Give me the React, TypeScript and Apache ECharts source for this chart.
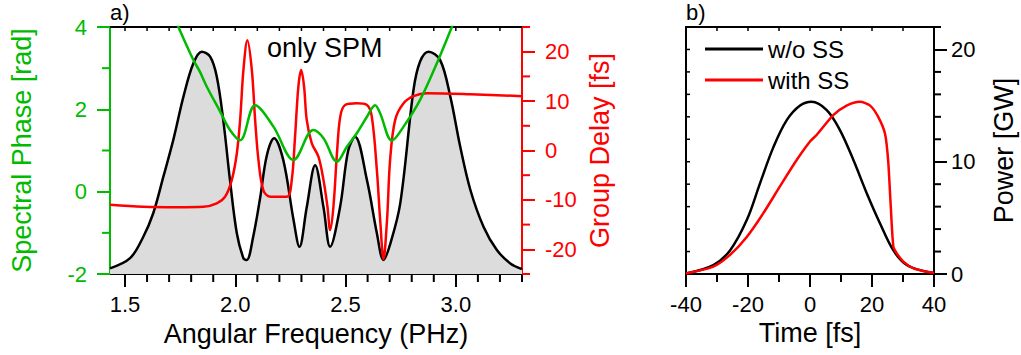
import React, { useEffect, useRef } from "react";
import * as echarts from "echarts";

// ---------- Panel a) data ----------
const FREQ_SPEC = [1.432, 1.523, 1.583, 1.628, 1.674, 1.719, 1.765, 1.81, 1.848, 1.886, 1.916, 1.946, 1.976, 2.007, 2.037, 2.052, 2.081, 2.113, 2.143, 2.176, 2.218, 2.264, 2.291, 2.324, 2.362, 2.4, 2.43, 2.475, 2.512, 2.543, 2.597, 2.642, 2.672, 2.702, 2.748, 2.808, 2.838, 2.876, 2.929, 2.975, 3.02, 3.066, 3.126, 3.186, 3.247, 3.3];
const SPECTRUM = [0.023, 0.064, 0.151, 0.246, 0.394, 0.543, 0.718, 0.853, 0.9, 0.88, 0.8, 0.62, 0.38, 0.165, 0.064, 0.057, 0.15, 0.31, 0.48, 0.55, 0.46, 0.22, 0.11, 0.27, 0.44, 0.27, 0.11, 0.27, 0.5, 0.556, 0.38, 0.165, 0.057, 0.12, 0.286, 0.745, 0.86, 0.9, 0.866, 0.718, 0.515, 0.34, 0.19, 0.097, 0.043, 0.02];

const FREQ_PHASE = [1.7, 1.742, 1.81, 1.84, 1.871, 1.931, 1.976, 2.022, 2.09, 2.173, 2.264, 2.354, 2.4, 2.461, 2.506, 2.551, 2.597, 2.634, 2.657, 2.71, 2.763, 2.838, 2.914, 2.982, 3.02];
const PHASE = [4.5, 4.0, 3.2, 2.91, 2.55, 1.95, 1.5, 1.25, 2.1, 1.58, 0.77, 1.5, 1.3, 0.73, 1.09, 1.42, 1.82, 2.1, 1.9, 1.24, 1.58, 2.23, 3.12, 4.0, 4.5];

const FREQ_GD = [1.432, 1.583, 1.735, 1.855, 1.916, 1.954, 1.984, 2.007, 2.022, 2.037, 2.055, 2.075, 2.09, 2.105, 2.127, 2.158, 2.234, 2.256, 2.271, 2.286, 2.299, 2.312, 2.324, 2.347, 2.377, 2.4, 2.418, 2.43, 2.445, 2.461, 2.476, 2.498, 2.551, 2.597, 2.619, 2.642, 2.657, 2.672, 2.688, 2.702, 2.725, 2.763, 2.808, 2.869, 3.066, 3.3];
const GROUP_DELAY = [-11.0, -11.4, -11.5, -11.4, -10.7, -9.35, -6.0, -0.6, 6.2, 16.3, 22.3, 16.3, 6.2, -1.9, -8.0, -9.35, -9.35, -6.0, 2.8, 12.9, 16.3, 12.9, 6.2, 1.45, -1.25, -6.0, -11.4, -16.1, -11.4, -0.6, 6.85, 9.2, 9.55, 9.2, 6.85, -4.0, -14.1, -22.0, -14.1, -1.9, 6.2, 9.55, 11.0, 11.6, 11.4, 11.0];

const FREQ_TICKS = [1.5, 2.0, 2.5, 3.0];
const FREQ_MINOR = [1.6, 1.7, 1.8, 1.9, 2.1, 2.2, 2.3, 2.4, 2.6, 2.7, 2.8, 2.9, 3.1, 3.2, 3.3];
const FREQ_TOP = [1.5, 1.6, 1.7, 1.8, 1.9, 2.0, 2.1, 2.2, 2.3, 2.4, 2.5, 2.6, 2.7, 2.8, 2.9, 3.0, 3.1, 3.2];
const PHASE_TICKS = [-2, 0, 2, 4];
const PHASE_MINOR = [-1, 1, 3];
const GD_TICKS = [-20, -10, 0, 10, 20];
const GD_MINOR = [-25, -15, -5, 5, 15, 25];

// ---------- Panel b) data ----------
const TIME_WO = [-40, -31.2, -25.8, -20.4, -16.1, -11.8, -7.5, -3.2, 0.5, 5.4, 9.7, 14.0, 18.3, 22.6, 26.9, 31.2, 37.6, 40];
const POWER_WO = [0.05, 0.8, 2.1, 4.8, 8.1, 11.3, 13.7, 15.0, 15.34, 14.6, 12.8, 10.15, 7.2, 4.5, 2.1, 0.8, 0.2, 0.1];
const TIME_SS = [-40, -31.2, -25.8, -20.4, -15.1, -9.7, -4.3, 0.0, 2.2, 7.5, 11.8, 16.1, 19.4, 22.0, 24.2, 25.2, 26.0, 26.9, 28.0, 30.1, 33.4, 37.6, 40];
const POWER_SS = [0.05, 0.65, 1.7, 3.3, 5.4, 7.8, 10.15, 11.8, 12.4, 14.15, 15.0, 15.34, 15.0, 14.0, 12.5, 10.15, 6.3, 2.43, 1.84, 1.1, 0.5, 0.2, 0.1];

const TIME_TICKS = [-40, -20, 0, 20, 40];
const TIME_MINOR = [-30, -10, 10, 30];
const TIME_TOP = [-30, -20, -10, 0, 10, 20, 30];
const POWER_TICKS = [0, 10, 20];
const POWER_MINOR = [2, 4, 6, 8, 12, 14, 16, 18, 22];
const POWER_LEFT = [2, 4, 6, 8, 10, 12, 14, 16, 18, 20, 22];

const FONT = "'Liberation Sans', Arial, sans-serif";
const GREEN = "#00bb00";
const RED = "#ff0000";
const BLACK = "#000000";

const zip = (xs: number[], ys: number[]) => xs.map((x, i) => [x, ys[i]]);

function mainAxis(base: any, ticks: number[], color: string, labelMargin: number, formatter?: (v: number) => string) {
  return {
    ...base,
    axisLine: { show: true, onZero: false, lineStyle: { color, width: 2 } },
    axisTick: { show: true, length: 13, customValues: ticks, lineStyle: { color, width: 2 } },
    axisLabel: {
      show: true, customValues: ticks, margin: labelMargin,
      fontFamily: FONT, fontSize: 22, color,
      ...(formatter ? { formatter } : {}),
    },
    splitLine: { show: false },
  };
}

function frameAxis(base: any) {
  return {
    ...base,
    axisLine: { show: true, onZero: false, lineStyle: { color: BLACK, width: 2 } },
    axisTick: { show: false },
    axisLabel: { show: false },
    splitLine: { show: false },
  };
}

export default function App() {
  const ref = useRef<HTMLDivElement>(null);
  useEffect(() => {
    if (!ref.current) return;
    const chart = echarts.init(ref.current, null, { renderer: "svg" });
    const nameStyle = (color: string) => ({ fontFamily: FONT, fontSize: 27, color });

    const option: any = {
      animation: false,
      grid: [
        { left: 110, top: 27, width: 412, height: 247 },
        { left: 686, top: 27, width: 248, height: 247 },
      ],
      xAxis: [
        {
          ...mainAxis({ type: "value", gridIndex: 0, min: 1.432, max: 3.3, position: "bottom" }, FREQ_TICKS, BLACK, 19, (v: number) => v.toFixed(1)),
          name: "Angular Frequency (PHz)", nameLocation: "middle", nameGap: 46, nameTextStyle: nameStyle(BLACK),
        },
        frameAxis({ type: "value", gridIndex: 0, min: 1.432, max: 3.3, position: "top" }),
        {
          ...mainAxis({ type: "value", gridIndex: 1, min: -40, max: 40, position: "bottom" }, TIME_TICKS, BLACK, 19),
          name: "Time [fs]", nameLocation: "middle", nameGap: 44, nameTextStyle: nameStyle(BLACK),
        },
        frameAxis({ type: "value", gridIndex: 1, min: -40, max: 40, position: "top" }),
      ],
      yAxis: [
        {
          ...mainAxis({ type: "value", gridIndex: 0, min: -2, max: 4, position: "left" }, PHASE_TICKS, GREEN, 23),
          name: "Spectral Phase [rad]", nameLocation: "middle", nameRotate: 90, nameGap: 75, nameTextStyle: nameStyle(GREEN),
        },
        {
          ...mainAxis({ type: "value", gridIndex: 0, min: -25, max: 25, position: "right" }, GD_TICKS, RED, 23),
          name: "Group Delay [fs]", nameLocation: "middle", nameRotate: 90, nameGap: 64, nameTextStyle: nameStyle(RED),
        },
        { type: "value", gridIndex: 0, min: 0, max: 1, show: false },
        {
          ...mainAxis({ type: "value", gridIndex: 1, min: 0, max: 22, position: "right" }, POWER_TICKS, BLACK, 17),
          name: "Power [GW]", nameLocation: "middle", nameRotate: 90, nameGap: 56, nameTextStyle: nameStyle(BLACK),
        },
        frameAxis({ type: "value", gridIndex: 1, min: 0, max: 22, position: "left" }),
      ],
      legend: {
        orient: "vertical",
        left: 700,
        top: 32,
        itemWidth: 58,
        itemHeight: 3,
        itemGap: 7,
        icon: "rect",
        textStyle: { fontFamily: FONT, fontSize: 24, color: BLACK },
        data: ["w/o SS", "with SS"],
      },
      series: [
        {
          type: "line", xAxisIndex: 0, yAxisIndex: 2, data: zip(FREQ_SPEC, SPECTRUM),
          smooth: 0.35, showSymbol: false, lineStyle: { color: BLACK, width: 2.5 },
          areaStyle: { color: "#dcdcdc", opacity: 1 }, z: 2,
        },
        {
          type: "line", xAxisIndex: 0, yAxisIndex: 0, data: zip(FREQ_PHASE, PHASE),
          smooth: 0.35, showSymbol: false, lineStyle: { color: GREEN, width: 2.5 }, z: 4,
        },
        {
          type: "line", xAxisIndex: 0, yAxisIndex: 1, data: zip(FREQ_GD, GROUP_DELAY),
          smooth: 0.35, showSymbol: false, lineStyle: { color: RED, width: 2.5 }, z: 3,
        },
        {
          name: "w/o SS", type: "line", xAxisIndex: 2, yAxisIndex: 3, data: zip(TIME_WO, POWER_WO),
          smooth: 0.35, showSymbol: false, itemStyle: { color: BLACK }, lineStyle: { color: BLACK, width: 2.5 },
        },
        {
          name: "with SS", type: "line", xAxisIndex: 2, yAxisIndex: 3, data: zip(TIME_SS, POWER_SS),
          smooth: 0.25, showSymbol: false, itemStyle: { color: RED }, lineStyle: { color: RED, width: 2.5 },
        },
      ],
    };
    chart.setOption(option);

    const texts: any[] = [
      { type: "text", x: 110, y: 12, style: { text: "a)", font: `22px ${FONT}`, fill: BLACK, verticalAlign: "middle" } },
      { type: "text", x: 686, y: 12, style: { text: "b)", font: `22px ${FONT}`, fill: BLACK, verticalAlign: "middle" } },
      { type: "text", x: 267, y: 48, style: { text: "only SPM", font: `27px ${FONT}`, fill: BLACK, verticalAlign: "middle" } },
    ];

    // Minor / frame ticks placed through the axes' own scales.
    const ticks: any[] = [];
    try {
      const pick = (r: any, i: number) => (Array.isArray(r) ? r[i] : r);
      const toX = (idx: number, v: number) => pick(chart.convertToPixel({ xAxisIndex: idx } as any, v), 0) as number;
      const toY = (idx: number, v: number) => pick(chart.convertToPixel({ yAxisIndex: idx } as any, v), 1) as number;
      const seg = (x1: number, y1: number, x2: number, y2: number, color: string, w: number) => {
        if ([x1, y1, x2, y2].every((n) => typeof n === "number" && isFinite(n))) {
          ticks.push({ type: "line", silent: true, z: 10, shape: { x1, y1, x2, y2 }, style: { stroke: color, lineWidth: w } });
        }
      };
      // panel a
      const aBottom = toY(0, -2), aTop = toY(0, 4), aLeft = toX(0, 1.432), aRight = toX(0, 3.3);
      FREQ_MINOR.forEach((v) => { const x = toX(0, v); seg(x, aBottom, x, aBottom + 8, BLACK, 2); });
      FREQ_TOP.forEach((v) => { const x = toX(0, v); seg(x, aTop, x, aTop + 4, BLACK, 1.5); });
      PHASE_MINOR.forEach((v) => { const y = toY(0, v); seg(aLeft, y, aLeft - 8, y, GREEN, 2); });
      GD_MINOR.forEach((v) => { const y = toY(1, v); seg(aRight, y, aRight + 8, y, RED, 2); });
      // panel b
      const bBottom = toY(3, 0), bTop = toY(3, 22), bLeft = toX(2, -40), bRight = toX(2, 40);
      TIME_MINOR.forEach((v) => { const x = toX(2, v); seg(x, bBottom, x, bBottom + 8, BLACK, 2); });
      TIME_TOP.forEach((v) => { const x = toX(2, v); seg(x, bTop, x, bTop + 4, BLACK, 1.5); });
      POWER_MINOR.forEach((v) => { const y = toY(3, v); seg(bRight, y, bRight + 7, y, BLACK, 2); });
      POWER_LEFT.forEach((v) => { const y = toY(3, v); seg(bLeft, y, bLeft + 4, y, BLACK, 1.5); });
    } catch (e) {
      // keep chart without minor ticks if conversion fails
    }
    chart.setOption({ graphic: [...texts, ...ticks] });

    return () => chart.dispose();
  }, []);
  return <div ref={ref} style={{ position: "fixed", left: 0, top: 0, width: 1021, height: 355, background: "#fff" }} />;
}
